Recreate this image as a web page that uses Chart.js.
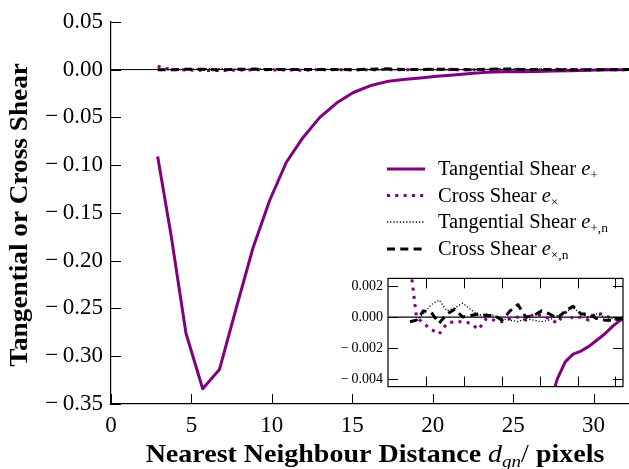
<!DOCTYPE html>
<html>
<head>
<meta charset="utf-8">
<script src="https://cdn.jsdelivr.net/npm/chart.js@4.4.0/dist/chart.umd.min.js"></script>
<style>
  html, body { margin: 0; padding: 0; background: #fff; }
  #wrap { position: relative; width: 629px; height: 469px; overflow: hidden; }
  #main { position: absolute; left: 0; top: 0; }
  #inset { position: absolute; left: 330px; top: 265px; }
</style>
</head>
<body>
<div id="wrap">
  <canvas id="main" width="629" height="469"></canvas>
  <canvas id="inset" width="299" height="135"></canvas>
</div>
<script>
// nearest neighbour distance bins (pixels)
const distance = [2.90, 3.75, 4.66, 5.70, 6.74, 7.78, 8.82, 9.86, 10.90, 11.94,
                  12.98, 14.02, 15.06, 16.10, 17.14, 18.18, 19.22, 20.26, 21.30, 22.34,
                  23.38, 24.42, 25.46, 26.50, 27.54, 28.58, 29.62, 30.66, 31.70, 32.74];

// shear measurements per bin
const tangentialShear = [-0.091, -0.175, -0.276, -0.334, -0.314, -0.250, -0.187, -0.137, -0.097, -0.071,
                         -0.050, -0.035, -0.024, -0.017, -0.0126, -0.0105, -0.0088, -0.0071, -0.0057, -0.0040,
                         -0.0029, -0.0024, -0.0022, -0.0019, -0.0015, -0.0011, -0.0006, -0.0002, -0.0001, 0.0000];
const crossShear = [0.0035, 0.0000, -0.0004, -0.0008, -0.0011, -0.0004, -0.0003, -0.0003, -0.0004, -0.0008,
                    -0.0001, -0.0002, -0.0003, -0.0001, 0.0000, -0.0002, 0.0002, 0.0001, -0.0001, -0.0004,
                    0.0003, -0.0001, 0.0000, -0.0002, 0.0003, 0.0001, -0.0001, -0.0002, -0.0001, 0.0000];
const tangentialShearN = [-0.0003, -0.0002, 0.0002, 0.0008, 0.0011, 0.0004, 0.0006, 0.0009, 0.0005, 0.0001,
                          0.0002, 0.0001, -0.0001, -0.0002, -0.0003, -0.0001, -0.0002, -0.0003, -0.0002, 0.0001,
                          0.0003, 0.0006, 0.0002, 0.0000, 0.0002, 0.0000, -0.0001, -0.0002, -0.0001, 0.0000];
const crossShearN = [-0.0003, -0.0002, 0.0004, 0.0003, -0.0004, 0.0002, 0.0005, 0.0000, 0.0001, 0.0002,
                     0.0001, 0.0001, -0.0002, 0.0004, 0.0008, 0.0000, 0.0001, 0.0004, 0.0002, -0.0001,
                     0.0004, 0.0007, 0.0002, 0.0002, -0.0001, -0.0002, -0.0002, -0.0001, 0.0000, 0.0000];

const seriesNames = ['Tangential Shear', 'Cross Shear', 'Tangential Shear', 'Cross Shear'];
const seriesSubs = ['+', '\u00d7', '+,n', '\u00d7,n'];

// tick labels
const mainXTicks = [0, 5, 10, 15, 20, 25, 30];
const mainYTicks = [0.05, 0.00, -0.05, -0.10, -0.15, -0.20, -0.25, -0.30, -0.35];
const insetXTicks = [5, 10, 15, 20, 25, 30];
const insetYTicks = [0.002, 0.000, -0.002, -0.004];

const PURPLE = '#800080';
const SERIF = "'Liberation Serif', 'DejaVu Serif', serif";

const seriesStyle = [
    { color: PURPLE, width: 3, dash: [] },
    { color: PURPLE, width: 3, dash: [3, 5.3] },
    { color: '#000', width: 1.3, dash: [1.2, 2] },
    { color: '#000', width: 3, dash: [8, 5.3] }
];

function makeDatasets() {
    const all = [tangentialShear, crossShear, tangentialShearN, crossShearN];
    return all.map((ys, i) => ({
        label: seriesNames[i],
        data: distance.map((x, j) => ({ x: x, y: ys[j] })),
        showLine: true,
        borderColor: seriesStyle[i].color,
        borderWidth: seriesStyle[i].width,
        borderDash: seriesStyle[i].dash,
        borderJoinStyle: 'round',
        pointRadius: 0,
        tension: 0,
        order: 3 - i
    }));
}

function minusFmt(v, digits) {
    if (Math.abs(v) < 1e-9) v = 0;
    const s = Math.abs(v).toFixed(digits);
    return (v < 0 ? '\u2212\u2009' : '') + s;
}

// draws text runs (font + vertical shift) centred on the current origin, stretched by sx
function drawRuns(ctx, runs, sx) {
    let total = 0;
    runs.forEach(r => { ctx.font = r.font; r.w = ctx.measureText(r.text).width; total += r.w; });
    ctx.scale(sx, 1);
    let cx = -total / 2;
    ctx.textAlign = 'left';
    runs.forEach(r => {
        ctx.font = r.font;
        ctx.fillText(r.text, cx, r.dy || 0);
        cx += r.w;
    });
}

function zeroLine(chart, width) {
    const ctx = chart.ctx, a = chart.chartArea;
    const y = chart.scales.y.getPixelForValue(0);
    ctx.save();
    ctx.strokeStyle = '#000';
    ctx.lineWidth = width;
    ctx.beginPath();
    ctx.moveTo(a.left, y);
    ctx.lineTo(a.right, y);
    ctx.stroke();
    ctx.restore();
}

function inwardTicks(chart, len, bothSides) {
    const ctx = chart.ctx, a = chart.chartArea;
    const xs = chart.scales.x, ys = chart.scales.y;
    ctx.save();
    ctx.strokeStyle = '#000';
    ctx.lineWidth = 1;
    ctx.beginPath();
    xs.ticks.forEach(t => {
        const p = Math.round(xs.getPixelForValue(t.value)) + 0.5;
        if (p < a.left - 1 || p > a.right + 1) return;
        ctx.moveTo(p, a.bottom); ctx.lineTo(p, a.bottom - len);
        if (bothSides) { ctx.moveTo(p, a.top); ctx.lineTo(p, a.top + len); }
    });
    ys.ticks.forEach(t => {
        const p = Math.round(ys.getPixelForValue(t.value)) + 0.5;
        ctx.moveTo(a.left, p); ctx.lineTo(a.left + len, p);
        if (bothSides) { ctx.moveTo(a.right, p); ctx.lineTo(a.right - len, p); }
    });
    ctx.stroke();
    ctx.restore();
}

const mainDecor = {
    id: 'mainDecor',
    beforeDatasetsDraw(chart) { zeroLine(chart, 1); },
    afterDraw(chart) {
        const ctx = chart.ctx, a = chart.chartArea;
        inwardTicks(chart, 10, false);

        // legend (no frame)
        const rows = [169, 195.5, 222, 249];
        ctx.save();
        rows.forEach((ry, i) => {
            const st = seriesStyle[i];
            ctx.strokeStyle = st.color;
            ctx.lineWidth = st.width;
            ctx.setLineDash(st.dash);
            ctx.beginPath();
            ctx.moveTo(387, ry);
            ctx.lineTo(425, ry);
            ctx.stroke();
        });
        ctx.setLineDash([]);
        ctx.fillStyle = '#000';
        ctx.textAlign = 'left';
        ctx.textBaseline = 'alphabetic';
        rows.forEach((ry, i) => {
            let x = 438;
            const runs = [
                { text: seriesNames[i] + ' ', font: '20.5px ' + SERIF, dy: 0 },
                { text: 'e', font: 'italic 20.5px ' + SERIF, dy: 0 },
                { text: seriesSubs[i], font: '13.5px ' + SERIF, dy: 4 }
            ];
            runs.forEach(r => {
                ctx.font = r.font;
                ctx.fillText(r.text, x, ry + 6 + r.dy);
                x += ctx.measureText(r.text).width;
            });
        });
        ctx.restore();

        // x axis title
        ctx.save();
        ctx.fillStyle = '#000';
        ctx.translate((a.left + a.right) / 2 + 5, 462);
        drawRuns(ctx, [
            { text: 'Nearest Neighbour Distance ', font: 'bold 25px ' + SERIF },
            { text: 'd', font: 'italic 25px ' + SERIF },
            { text: 'gn', font: 'italic 17px ' + SERIF, dy: 5 },
            { text: '/', font: '25px ' + SERIF },
            { text: ' pixels', font: 'bold 25px ' + SERIF }
        ], 1.12);
        ctx.restore();

        // y axis title
        ctx.save();
        ctx.fillStyle = '#000';
        ctx.translate(27, (a.top + a.bottom) / 2 + 2);
        ctx.rotate(-Math.PI / 2);
        drawRuns(ctx, [{ text: 'Tangential or Cross Shear', font: 'bold 25px ' + SERIF }], 1.09);
        ctx.restore();
    }
};

const insetDecor = {
    id: 'insetDecor',
    beforeDatasetsDraw(chart) { zeroLine(chart, 1.2); },
    afterDraw(chart) {
        const ctx = chart.ctx, a = chart.chartArea;
        inwardTicks(chart, 10, true);
        ctx.save();
        ctx.strokeStyle = '#000';
        ctx.lineWidth = 1.2;
        ctx.strokeRect(a.left, a.top, a.right - a.left, a.bottom - a.top);
        ctx.restore();
    }
};

new Chart(document.getElementById('main'), {
    type: 'scatter',
    data: { datasets: makeDatasets() },
    options: {
        responsive: false,
        animation: false,
        devicePixelRatio: 1,
        layout: { padding: { top: 18, right: 0, bottom: 0, left: 0 } },
        plugins: { legend: { display: false }, tooltip: { enabled: false } },
        scales: {
            x: {
                type: 'linear', min: 0, max: 32.2,
                afterBuildTicks: s => { s.ticks = mainXTicks.map(v => ({ value: v })); },
                afterFit: s => { s.height = 65; },
                grid: { display: false, drawTicks: false },
                border: { display: true, color: '#000', width: 1.2 },
                ticks: {
                    font: { family: SERIF, size: 23 }, color: '#000', padding: 8,
                    maxRotation: 0, autoSkip: false,
                    callback: v => String(v)
                }
            },
            y: {
                type: 'linear', min: -0.35, max: 0.05,
                afterBuildTicks: s => { s.ticks = mainYTicks.map(v => ({ value: v })); },
                afterFit: s => { s.width = 111; },
                grid: { display: false, drawTicks: false },
                border: { display: true, color: '#000', width: 1.2 },
                ticks: {
                    font: { family: SERIF, size: 23 }, color: '#000', padding: 8,
                    autoSkip: false,
                    callback: v => minusFmt(v, 2)
                }
            }
        }
    },
    plugins: [mainDecor]
});

new Chart(document.getElementById('inset'), {
    type: 'scatter',
    data: { datasets: makeDatasets() },
    options: {
        responsive: false,
        animation: false,
        devicePixelRatio: 1,
        layout: { padding: { top: 8, right: 6, bottom: 0, left: 0 } },
        plugins: { legend: { display: false }, tooltip: { enabled: false } },
        scales: {
            x: {
                type: 'linear', min: 0, max: 31,
                afterBuildTicks: s => { s.ticks = insetXTicks.map(v => ({ value: v })); },
                afterFit: s => { s.height = 5; },
                grid: { display: false, drawTicks: false },
                border: { display: false },
                ticks: { display: false }
            },
            y: {
                type: 'linear', min: -0.0045, max: 0.0025,
                afterBuildTicks: s => { s.ticks = insetYTicks.map(v => ({ value: v })); },
                afterFit: s => { s.width = 58; },
                grid: { display: false, drawTicks: false },
                border: { display: false },
                ticks: {
                    font: { family: SERIF, size: 14 }, color: '#000', padding: 5,
                    autoSkip: false,
                    callback: v => minusFmt(v, 3)
                }
            }
        }
    },
    plugins: [insetDecor]
});
</script>
</body>
</html>
